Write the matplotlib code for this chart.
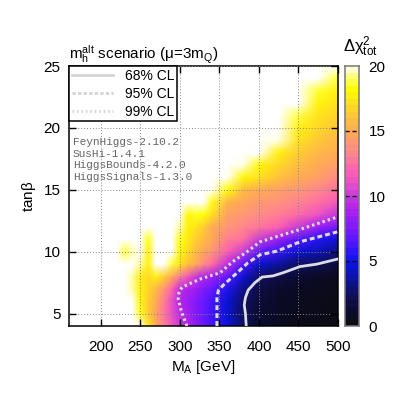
import numpy as np
import matplotlib
matplotlib.use("Agg")
import matplotlib.pyplot as plt
from matplotlib.colors import LinearSegmentedColormap

plt.rcParams["font.family"] = ["Liberation Sans", "DejaVu Sans"]
plt.rcParams["mathtext.fontset"] = "custom"
plt.rcParams["mathtext.rm"] = "Liberation Sans"
plt.rcParams["mathtext.it"] = "Liberation Sans"
plt.rcParams["mathtext.bf"] = "Liberation Sans"
plt.rcParams["mathtext.default"] = "regular"

W = 20.4  # just above the colour range, draws white

ma = [160, 220, 230, 240, 250, 260, 270, 280, 290, 300, 310, 320, 330, 340, 360, 380, 400, 425, 450, 475, 500]
tanb = [4, 5, 6, 7, 8, 9, 10, 11, 12, 13, 14, 15, 16, 17, 18, 19, 20, 21, 22, 23, 24, 25]

chi2_t4 = [W, W, W, W, W, 17.5, 15, 13, 11.5, 10, 9.2, 8, 7, 6.3, 4.8, 2.5, 1.3, 0.8, 0.5, 0.3, 0.1]
chi2_t5 = [W, W, W, W, 18.5, 16.5, 14.5, 12.8, 11, 9.5, 8.7, 7.8, 7, 6.2, 4.5, 2.4, 1.4, 0.9, 0.6, 0.4, 0.2]
chi2_t6 = [W, W, W, W, 18, 16.5, 15, 13, 11, 9.1, 8.5, 7.7, 7, 6.3, 4.6, 2.6, 1.5, 1, 0.7, 0.5, 0.3]
chi2_t7 = [W, W, W, 19.5, 17.8, 16.8, 15.5, 14, 12, 9.6, 9, 8.4, 7.6, 7, 5.4, 3.3, 1.8, 1.2, 0.9, 0.6, 0.4]
chi2_t8 = [W, W, W, 19.5, 17.6, 17, 17.8, 16.5, 15, 13, 11.5, 10, 9.2, 8.6, 6.8, 4.6, 2.6, 1.9, 1.4, 1, 0.7]
chi2_t9 = [W, W, W, W, 19.5, 17.8, W, W, 18.8, 17.2, 16, 15, 13.5, 12.5, 9.6, 6.6, 4.4, 3.6, 2.5, 2.3, 1.6]
chi2_t10 = [W, W, 18.8, 19.5, W, 17.8, W, W, W, 18.2, 17, 15.8, 14.8, 14, 12, 10, 6.8, 5.9, 4.5, 4, 3.1]
chi2_t11 = [W, W, W, W, W, 18.5, W, W, W, 18.5, 17.5, 16.5, 15.8, 15, 13, 12.5, 10, 8.5, 6.5, 5.6, 4.6]
chi2_t12 = [W, W, W, W, W, W, W, W, W, 19.5, 17.8, 17.3, 16.5, 15, 14, 13.3, 12.8, 12, 10, 8.5, 7.2]
chi2_t13 = [W, W, W, W, W, W, W, W, W, W, 18, 18.5, 18.3, 17.2, 14.5, 14, 13.5, 13, 12.3, 11.2, 9.8]
chi2_t14 = [W, W, W, W, W, W, W, W, W, W, W, W, W, 18.5, 15.5, 14.8, 14.2, 13.8, 13.2, 12.5, 11.5]
chi2_t15 = [W, W, W, W, W, W, W, W, W, W, W, W, W, W, 18.3, 15.8, 15, 14.5, 14, 13.3, 12.5]
chi2_t16 = [W, W, W, W, W, W, W, W, W, W, W, W, W, W, 19.9, 18, 17.2, 16, 15, 14.5, 13.5]
chi2_t17 = [W, W, W, W, W, W, W, W, W, W, W, W, W, W, W, 19.8, 18, 16.8, 15.8, 15, 14.3]
chi2_t18 = [W, W, W, W, W, W, W, W, W, W, W, W, W, W, W, W, 20, 17.8, 16.5, 15.6, 15]
chi2_t19 = [W, W, W, W, W, W, W, W, W, W, W, W, W, W, W, W, W, 19.8, 17.2, 16.3, 15.5]
chi2_t20 = [W, W, W, W, W, W, W, W, W, W, W, W, W, W, W, W, W, W, 17.8, 16.8, 16.2]
chi2_t21 = [W, W, W, W, W, W, W, W, W, W, W, W, W, W, W, W, W, W, 18.8, 17.3, 16.7]
chi2_t22 = [W, W, W, W, W, W, W, W, W, W, W, W, W, W, W, W, W, W, W, 17.9, 17.2]
chi2_t23 = [W, W, W, W, W, W, W, W, W, W, W, W, W, W, W, W, W, W, W, 18.6, 17.8]
chi2_t24 = [W, W, W, W, W, W, W, W, W, W, W, W, W, W, W, W, W, W, W, 20, 18.6]
chi2_t25 = [W, W, W, W, W, W, W, W, W, W, W, W, W, W, W, W, W, W, W, W, 20]

chi2 = np.array([
    chi2_t4, chi2_t5, chi2_t6, chi2_t7, chi2_t8, chi2_t9, chi2_t10, chi2_t11, chi2_t12,
    chi2_t13, chi2_t14, chi2_t15, chi2_t16, chi2_t17, chi2_t18, chi2_t19, chi2_t20,
    chi2_t21, chi2_t22, chi2_t23, chi2_t24, chi2_t25,
])

# confidence level contours
cl68_ma = [384, 383, 381.5, 383, 386.5, 395, 404, 418, 430.5, 452, 473.5, 499]
cl68_tb = [4, 5, 5.7, 6.3, 6.9, 7.5, 7.95, 8.05, 8.3, 8.8, 9, 9.4]
cl95_ma = [347, 347, 349, 355, 372.5, 386, 401.5, 423, 452, 499]
cl95_tb = [4, 6.35, 6.9, 7.3, 8.3, 9.1, 9.75, 10.05, 10.8, 11.6]
cl99_ma = [309, 302, 298, 299, 303, 326, 351, 367, 385, 401.5, 449.5, 499]
cl99_tb = [4, 5.2, 6.2, 6.7, 7.15, 7.8, 8.3, 9.2, 10, 10.8, 11.75, 12.8]

versions = ["FeynHiggs-2.10.2", "SusHi-1.4.1", "HiggsBounds-4.2.0", "HiggsSignals-1.3.0"]

pal = [
    (0 / 20, "#0c0c10"), (1 / 20, "#0a0a28"), (2.5 / 20, "#10105e"), (5 / 20, "#0a14f0"),
    (7 / 20, "#6a18ff"), (9 / 20, "#b020ee"), (10 / 20, "#c83ad8"), (11 / 20, "#e850c8"),
    (12 / 20, "#ff60b0"), (13.5 / 20, "#ff8c88"), (15 / 20, "#ffaa55"), (16.5 / 20, "#ffcc33"),
    (18.3 / 20, "#ffff00"), (19.3 / 20, "#ffff80"), (20 / 20, "#ffffff"),
]
cmap = LinearSegmentedColormap.from_list("chi", pal, N=256)

S = 407.0
fig = plt.figure(figsize=(4.07, 4.07), dpi=100)
ax = fig.add_axes([69 / S, 1 - 326 / S, 269 / S, 260 / S])
cax = fig.add_axes([345 / S, 1 - 326 / S, 14 / S, 260 / S])

mesh = ax.pcolormesh(ma, tanb, chi2, cmap=cmap, vmin=0, vmax=20, shading="gouraud", rasterized=True)
ax.set_xlim(160, 500)
ax.set_ylim(4, 25)
ax.set_xticks([200, 250, 300, 350, 400, 450, 500])
ax.set_yticks([5, 10, 15, 20, 25])
ax.grid(True, color="#888888", ls=(0, (1, 2)), lw=0.7, zorder=3)
ax.set_axisbelow(False)
ax.tick_params(direction="in", top=True, right=True, length=5, width=1, labelsize=11)
ax.tick_params(axis="x", pad=10)
ax.tick_params(axis="y", pad=6)
for s in ax.spines.values():
    s.set_linewidth(1.1)
ax.set_xlabel("M$_{A}$ [GeV]", fontsize=11, labelpad=3)
ax.set_ylabel(r"tan$\beta$", fontsize=11, labelpad=4)

line_col = "#dcdce4"
ax.plot(cl68_ma, cl68_tb, color=line_col, lw=2, zorder=5)
ax.plot(cl95_ma, cl95_tb, color=line_col, lw=2.2, ls=(0, (1.6, 1)), zorder=5)
ax.plot(cl99_ma, cl99_tb, color=line_col, lw=2.2, ls=(0, (0.8, 1)), zorder=5)

# legend box, hand placed like the original
lg_col = "#d4d4d4"
lg_handles = [
    plt.Line2D([], [], color=lg_col, lw=2),
    plt.Line2D([], [], color=lg_col, lw=2, ls=(0, (1.2, 0.8))),
    plt.Line2D([], [], color=lg_col, lw=2, ls=(0, (0.6, 1))),
]
lg = ax.legend(
    lg_handles, ["68% CL", "95% CL", "99% CL"], loc="upper left", bbox_to_anchor=(0, 1),
    borderaxespad=0, fontsize=10, fancybox=False, edgecolor="black", framealpha=1,
    handlelength=3.0, labelspacing=0.28, handletextpad=0.8, borderpad=0.2,
)
lg.get_frame().set_linewidth(1.1)
lg.set_zorder(6)

for i, v in enumerate(versions):
    fig.text(73 / S, 1 - (142 + i * 11.7) / S, v, family="Liberation Mono", fontsize=8,
             color="#666666", va="center", ha="left", zorder=7)

fig.text(69 / S, 1 - 55 / S, r"m$_{h}^{alt}$ scenario ($\mu$=3m$_{Q}$)", fontsize=11, ha="left", va="center")

# colour box
cb_vals = np.linspace(0, 20, 41)
cax.pcolormesh([0, 1], cb_vals, np.column_stack([cb_vals[:-1] + 0.25]), cmap=cmap, vmin=0, vmax=20)
cax.set_xlim(0, 1)
cax.set_ylim(0, 20)
cax.set_xticks([])
cax.set_yticks([0, 5, 10, 15, 20])
cax.yaxis.tick_right()
cax.tick_params(length=0, labelsize=11, pad=7)
for y in [5, 10, 15]:
    cax.axhline(y, color="#111111", lw=1, ls=(0, (3, 2)))
for s in cax.spines.values():
    s.set_color("#777777")
    s.set_linewidth(1.1)
fig.text(360 / S, 1 - 47 / S, r"$\Delta\chi_{tot}^{2}$", fontsize=12, ha="center", va="center")

fig.savefig("out.png", dpi=100)
